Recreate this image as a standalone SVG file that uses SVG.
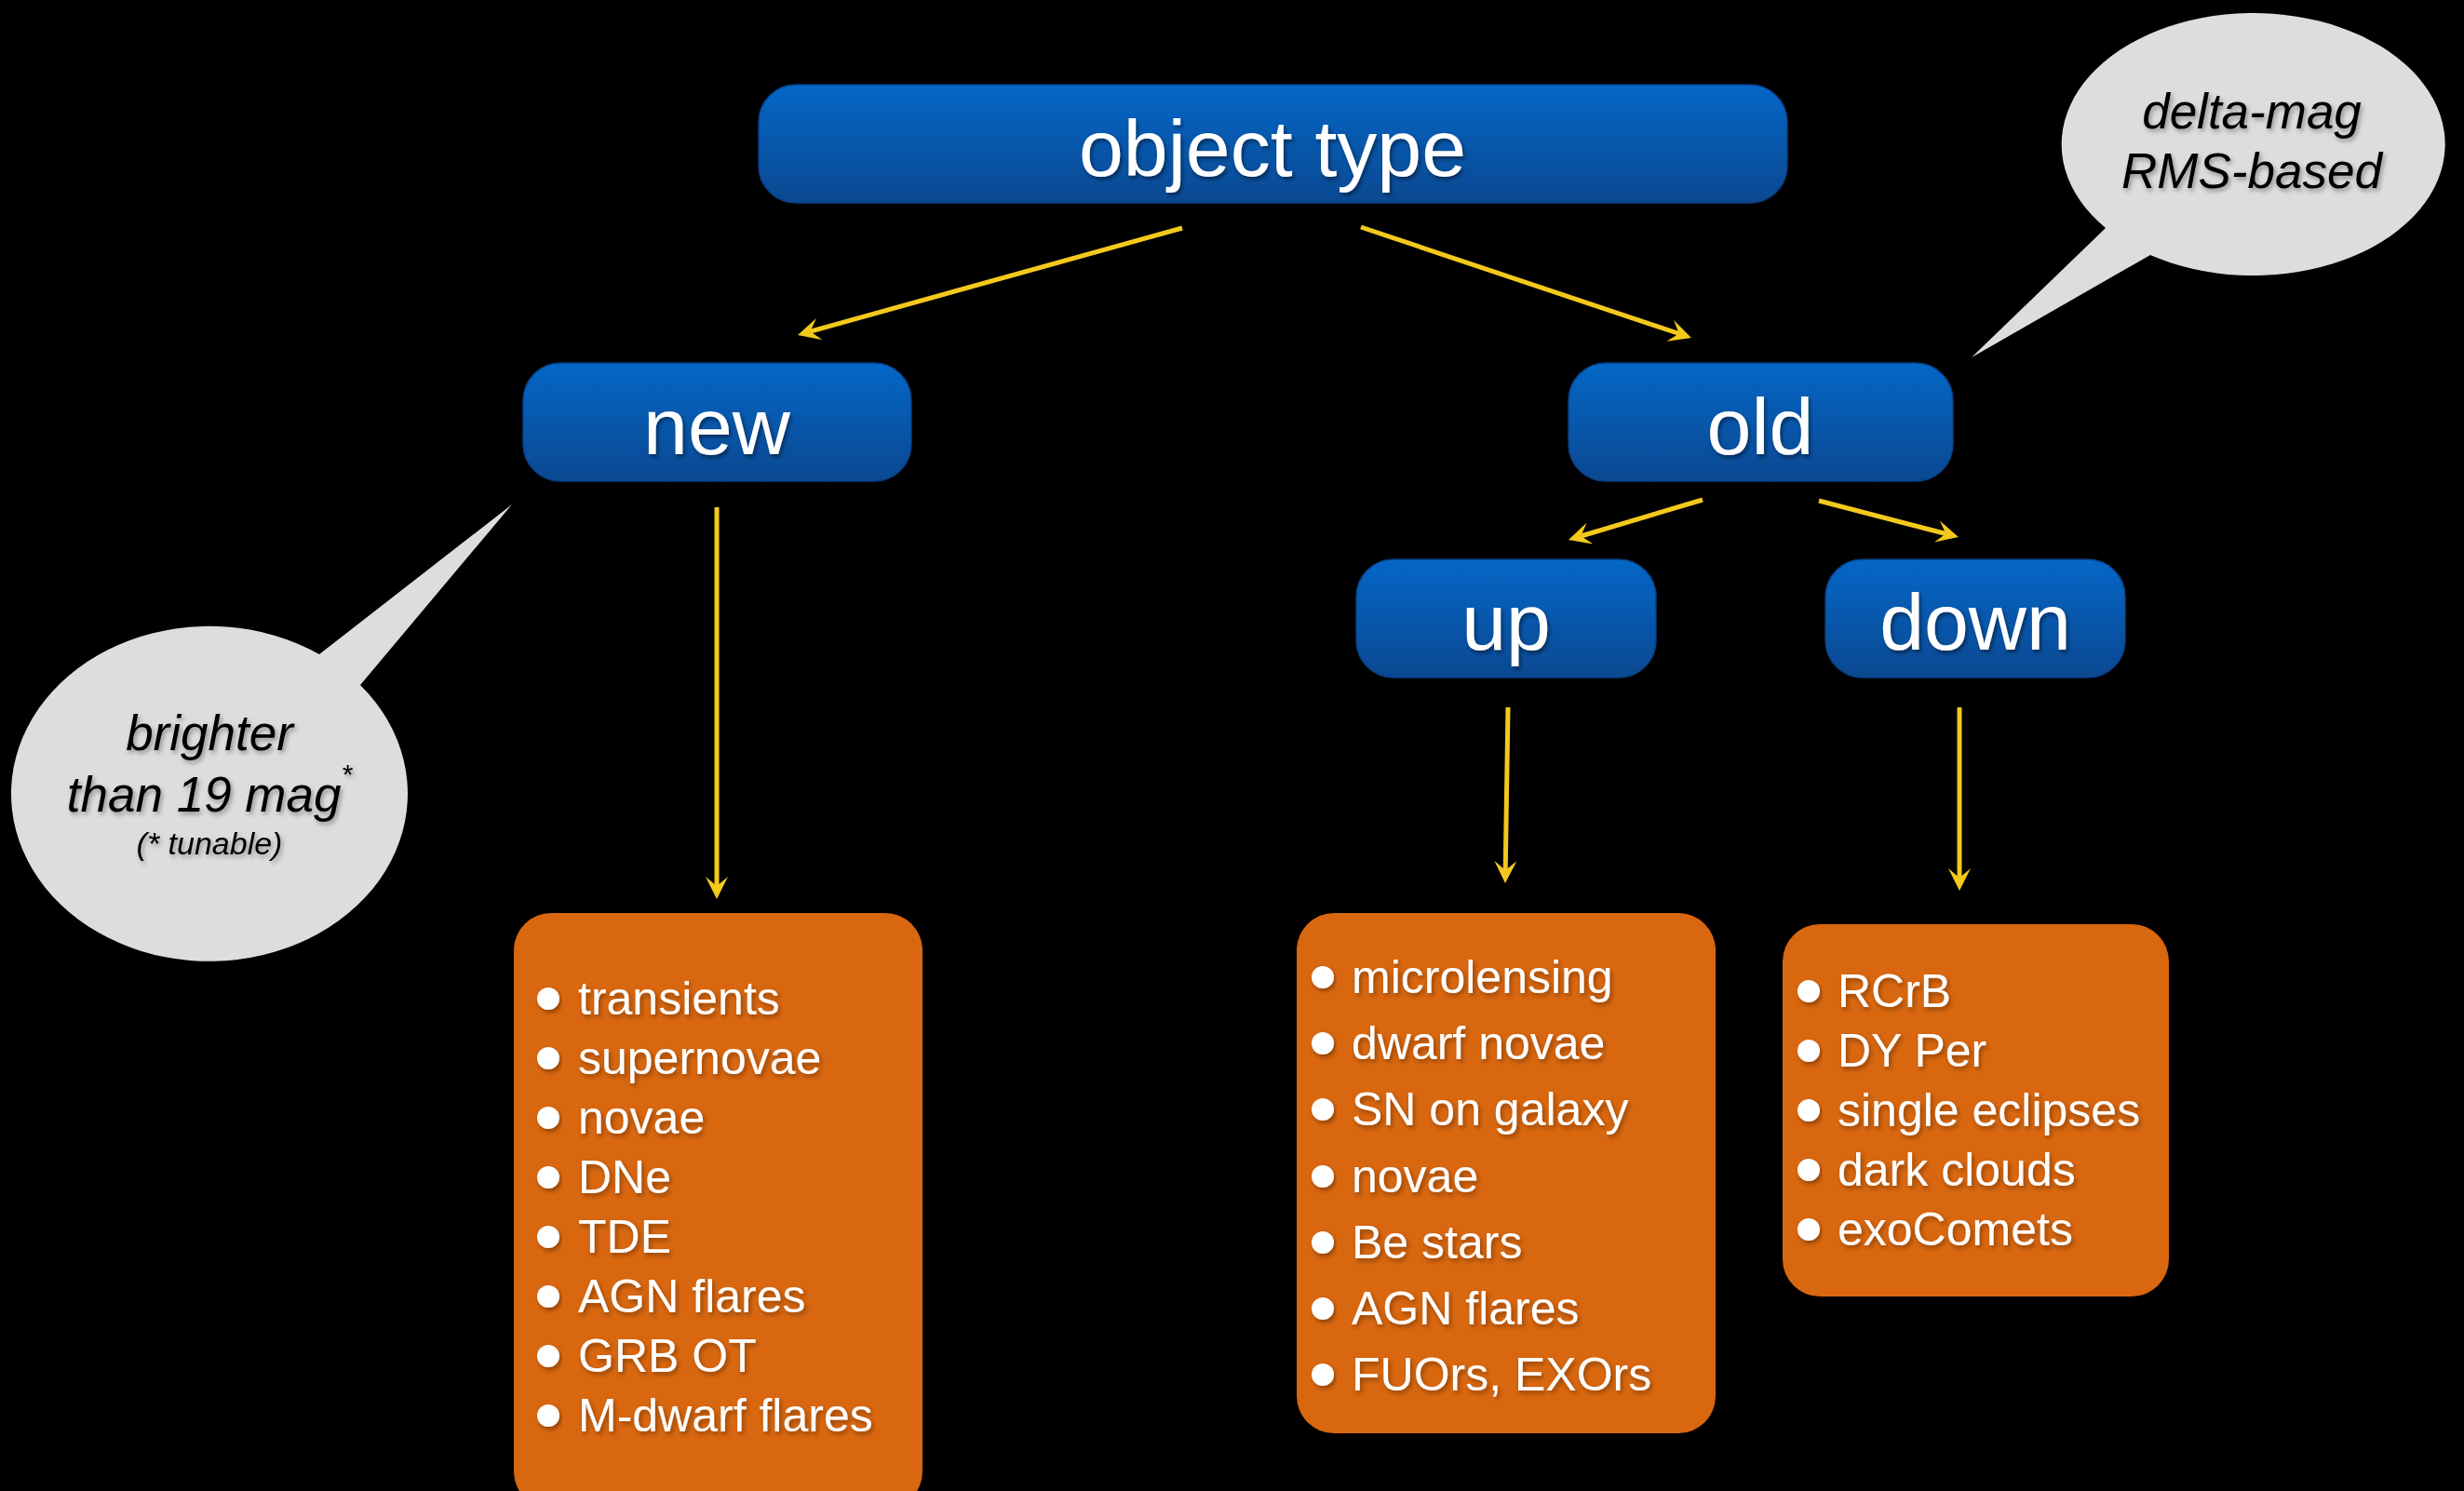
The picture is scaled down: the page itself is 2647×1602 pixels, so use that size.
<svg xmlns="http://www.w3.org/2000/svg" width="2647" height="1602" viewBox="0 0 2647 1602">
<defs>
<linearGradient id="blue" x1="0" y1="0" x2="0" y2="1">
<stop offset="0" stop-color="#0467C7"/>
<stop offset="1" stop-color="#0B4891"/>
</linearGradient>
<filter id="ts" x="-10%" y="-20%" width="120%" height="150%">
<feDropShadow dx="2" dy="3" stdDeviation="2" flood-color="#000" flood-opacity="0.45"/>
</filter>
<filter id="tsl" x="-10%" y="-20%" width="120%" height="150%">
<feDropShadow dx="2" dy="3" stdDeviation="2.5" flood-color="#000" flood-opacity="0.35"/>
</filter>
<marker id="ah" viewBox="0 0 24 24" refX="10" refY="12" markerWidth="24" markerHeight="24" markerUnits="userSpaceOnUse" orient="auto">
<path d="M0,0 L24,12 L0,24 L10,12 Z" fill="#F4C91C"/>
</marker>
<style>
.bn{fill:url(#blue);stroke:#0A3F80;stroke-width:1.5}
.bl{font-family:"Liberation Sans",Arial,sans-serif;font-size:86px;fill:#fff;text-anchor:middle;filter:url(#ts)}
.ob{fill:#D9670F}
.it{font-family:"Liberation Sans",Arial,sans-serif;font-size:50px;fill:#fff;filter:url(#tsl)}
.dot{fill:#fff;filter:url(#tsl)}
.bub{fill:#DCDDDF}
.bt{font-family:"Liberation Sans",Arial,sans-serif;font-style:italic;fill:#000;text-anchor:middle;filter:url(#tsl)}
.cn{stroke:#F4C91C;stroke-width:5;fill:none;marker-end:url(#ah)}
</style>
</defs>
<rect width="2647" height="1602" fill="#000"/>

<g id="connectors">
<line class="cn" x1="1270" y1="245" x2="870.5" y2="356.2"/>
<line class="cn" x1="1462" y1="244" x2="1803.7" y2="358.5"/>
<line class="cn" x1="1829" y1="537" x2="1698.4" y2="576"/>
<line class="cn" x1="1954" y1="538" x2="2090.4" y2="573.5"/>
<line class="cn" x1="770" y1="545" x2="770" y2="952"/>
<line class="cn" x1="1620" y1="760" x2="1617.2" y2="935"/>
<line class="cn" x1="2105" y1="760" x2="2105" y2="943"/>
</g>

<g id="node-object-type">
<rect class="bn" x="815" y="91" width="1105" height="127" rx="40"/>
<text class="bl" x="1367" y="189">object type</text>
</g>
<g id="node-new">
<rect class="bn" x="562" y="390" width="417" height="127" rx="40"/>
<text class="bl" x="770" y="488">new</text>
</g>
<g id="node-old">
<rect class="bn" x="1685" y="390" width="413" height="127" rx="40"/>
<text class="bl" x="1891" y="488">old</text>
</g>
<g id="node-up">
<rect class="bn" x="1457" y="601" width="322" height="127" rx="40"/>
<text class="bl" x="1618" y="698">up</text>
</g>
<g id="node-down">
<rect class="bn" x="1961" y="601" width="322" height="127" rx="40"/>
<text class="bl" x="2122" y="698">down</text>
</g>

<g id="list-new">
<rect class="ob" x="552" y="981" width="439" height="640" rx="40"/>
<circle class="dot" cx="589" cy="1073" r="12"/><text class="it" x="621" y="1090">transients</text>
<circle class="dot" cx="589" cy="1137" r="12"/><text class="it" x="621" y="1154">supernovae</text>
<circle class="dot" cx="589" cy="1201" r="12"/><text class="it" x="621" y="1218">novae</text>
<circle class="dot" cx="589" cy="1265" r="12"/><text class="it" x="621" y="1282">DNe</text>
<circle class="dot" cx="589" cy="1329" r="12"/><text class="it" x="621" y="1346">TDE</text>
<circle class="dot" cx="589" cy="1393" r="12"/><text class="it" x="621" y="1410">AGN flares</text>
<circle class="dot" cx="589" cy="1457" r="12"/><text class="it" x="621" y="1474">GRB OT</text>
<circle class="dot" cx="589" cy="1521" r="12"/><text class="it" x="621" y="1538">M-dwarf flares</text>
</g>

<g id="list-up">
<rect class="ob" x="1393" y="981" width="450" height="559" rx="40"/>
<circle class="dot" cx="1421" cy="1050" r="12"/><text class="it" x="1452" y="1067">microlensing</text>
<circle class="dot" cx="1421" cy="1121" r="12"/><text class="it" x="1452" y="1138">dwarf novae</text>
<circle class="dot" cx="1421" cy="1192" r="12"/><text class="it" x="1452" y="1209">SN on galaxy</text>
<circle class="dot" cx="1421" cy="1264" r="12"/><text class="it" x="1452" y="1281">novae</text>
<circle class="dot" cx="1421" cy="1335" r="12"/><text class="it" x="1452" y="1352">Be stars</text>
<circle class="dot" cx="1421" cy="1406" r="12"/><text class="it" x="1452" y="1423">AGN flares</text>
<circle class="dot" cx="1421" cy="1477" r="12"/><text class="it" x="1452" y="1494">FUOrs, EXOrs</text>
</g>

<g id="list-down">
<rect class="ob" x="1915" y="993" width="415" height="400" rx="40"/>
<circle class="dot" cx="1943" cy="1065" r="12"/><text class="it" x="1974" y="1082">RCrB</text>
<circle class="dot" cx="1943" cy="1129" r="12"/><text class="it" x="1974" y="1146">DY Per</text>
<circle class="dot" cx="1943" cy="1193" r="12"/><text class="it" x="1974" y="1210">single eclipses</text>
<circle class="dot" cx="1943" cy="1257" r="12"/><text class="it" x="1974" y="1274">dark clouds</text>
<circle class="dot" cx="1943" cy="1321" r="12"/><text class="it" x="1974" y="1338">exoComets</text>
</g>

<g id="callout-new">
<path class="bub" d="M343,703 L550,542 L387,736 A213 180 0 1 1 343,703 Z"/>
<text class="bt" x="225" y="806" font-size="53">brighter</text>
<text class="bt" x="225" y="872" font-size="53">than 19 mag<tspan font-size="30" dy="-30">*</tspan></text>
<text class="bt" x="225" y="918" font-size="34">(* tunable)</text>
</g>

<g id="callout-old">
<path class="bub" d="M2262,245 L2118,384 L2310,274 A206 141 0 1 0 2262,245 Z"/>
<text class="bt" x="2419" y="138" font-size="53">delta-mag</text>
<text class="bt" x="2419" y="202" font-size="53">RMS-based</text>
</g>
</svg>
